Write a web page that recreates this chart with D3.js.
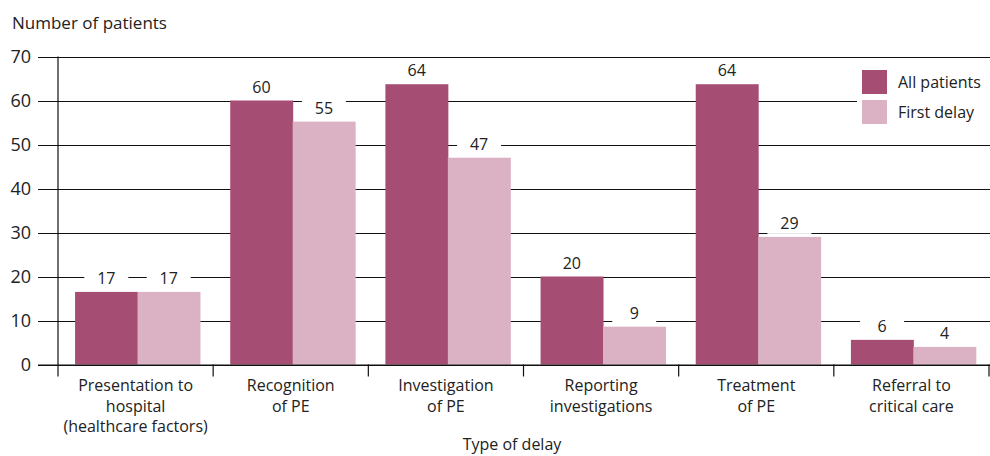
<!DOCTYPE html>
<html>
<head>
<meta charset="utf-8">
<script src="https://cdn.jsdelivr.net/npm/d3@7"></script>
<style>
  body { margin: 0; background: #fff; }
  svg { display: block; font-family: "Open Sans", sans-serif; fill: #222; }
</style>
</head>
<body>
<svg id="chart" width="990" height="456"></svg>
<script>
// categories (label lines), series values
var categories = [
  ["Presentation to", "hospital", "(healthcare factors)"],
  ["Recognition", "of PE"],
  ["Investigation", "of PE"],
  ["Reporting", "investigations"],
  ["Treatment", "of PE"],
  ["Referral to", "critical care"]
];
var seriesNames = ["All patients", "First delay"];
var allPatients = [16.5, 60, 63.7, 20, 63.7, 5.6];
var firstDelay = [16.5, 55.2, 47, 8.6, 29, 4];
var yTicks = [0, 10, 20, 30, 40, 50, 60, 70];
var colors = ["#a64d74", "#dbb2c3"];

var svg = d3.select("#chart");
var mLeft = 58, mRight = 991, mTop = 56.5, mBottom = 364.5;

var x0 = d3.scaleBand().domain(d3.range(categories.length)).range([mLeft, mRight - 2]);
var bw = x0.bandwidth();
var x1 = d3.scaleBand().domain([0, 1]).range([bw * 0.11, bw * 0.915]);
var y = d3.scaleLinear().domain([0, 70]).range([mBottom, mTop]);

// gridlines (with outward tick part)
svg.append("g").selectAll("line").data(yTicks).enter().append("line")
  .attr("x1", 38).attr("x2", mRight)
  .attr("y1", function (d) { return Math.round(y(d)) + 0.5; })
  .attr("y2", function (d) { return Math.round(y(d)) + 0.5; })
  .attr("stroke", "#111").attr("stroke-width", 1.2);

svg.append("g").selectAll("text").data(yTicks).enter().append("text")
  .attr("x", 31).attr("y", function (d) { return y(d); })
  .attr("dy", "0.36em").attr("text-anchor", "end")
  .style("font-size", "18px").text(function (d) { return d; });

// bars
var rows = categories.map(function (c, i) { return [allPatients[i], firstDelay[i]]; });
var groups = svg.append("g").selectAll("g").data(rows).enter().append("g")
  .attr("transform", function (d, i) { return "translate(" + x0(i) + ",0)"; });

groups.selectAll("rect").data(function (d) { return d; }).enter().append("rect")
  .attr("x", function (d, j) { return x1(j); })
  .attr("width", x1.bandwidth() + 0.5)
  .attr("y", function (d) { return y(d); })
  .attr("height", function (d) { return mBottom - y(d); })
  .attr("fill", function (d, j) { return colors[j]; });

// value labels with white backing boxes
var lab = groups.selectAll("g.lab").data(function (d) { return d; }).enter().append("g")
  .attr("class", "lab")
  .attr("transform", function (d, j) {
    return "translate(" + (x1(j) + x1.bandwidth() / 2) + "," + (y(d) - 8) + ")";
  });
lab.append("rect").attr("x", -22).attr("y", -16).attr("width", 44).attr("height", 21).attr("fill", "#fff");
lab.append("text").attr("text-anchor", "middle").style("font-size", "16px")
  .text(function (d) { return Math.round(d); });

// axes lines
svg.append("line").attr("x1", 38).attr("x2", mRight).attr("y1", mBottom + 0.5).attr("y2", mBottom + 0.5)
  .attr("stroke", "#111").attr("stroke-width", 1.2);
svg.append("line").attr("x1", mLeft).attr("x2", mLeft).attr("y1", mTop).attr("y2", mBottom + 12)
  .attr("stroke", "#111").attr("stroke-width", 1.2);
svg.append("g").selectAll("line").data(d3.range(1, categories.length + 1)).enter().append("line")
  .attr("x1", function (i) { return i < categories.length ? x0(i) : mRight - 2; })
  .attr("x2", function (i) { return i < categories.length ? x0(i) : mRight - 2; })
  .attr("y1", mBottom).attr("y2", mBottom + 12)
  .attr("stroke", "#111").attr("stroke-width", 1.2);

// category labels
var cat = svg.append("g").selectAll("text").data(categories).enter().append("text")
  .attr("text-anchor", "middle").style("font-size", "16px")
  .attr("transform", function (d, i) { return "translate(" + (x0(i) + bw / 2) + ",391)"; });
cat.selectAll("tspan").data(function (d) { return d; }).enter().append("tspan")
  .attr("x", 0).attr("y", function (d, k) { return k * 20.5; })
  .text(function (d) { return d; });

// titles
svg.append("text").attr("x", 12).attr("y", 29).style("font-size", "17px").text("Number of patients");
svg.append("text").attr("x", 512).attr("y", 450).attr("text-anchor", "middle")
  .style("font-size", "16px").text("Type of delay");

// legend
var lg = svg.append("g");
lg.append("rect").attr("x", 857).attr("y", 64).attr("width", 134).attr("height", 68).attr("fill", "#fff");
seriesNames.forEach(function (s, j) {
  lg.append("rect").attr("x", 862).attr("y", 70 + j * 30).attr("width", 25).attr("height", 24)
    .attr("fill", colors[j]);
  lg.append("text").attr("x", 898).attr("y", 88 + j * 30).style("font-size", "16px").text(s);
});
</script>
</body>
</html>
